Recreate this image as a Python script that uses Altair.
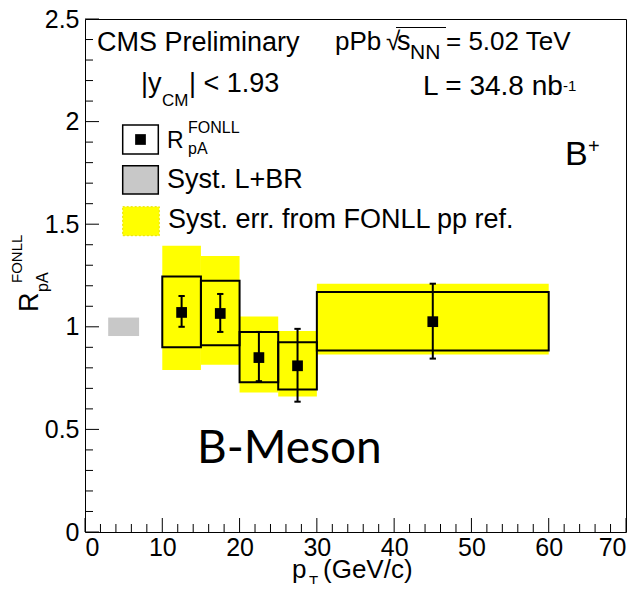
import altair as alt
import pandas as pd

# ---- data ----
bin_lo = [10, 15, 20, 25, 30]
bin_hi = [15, 20, 25, 30, 60]
pt_center = [12.5, 17.5, 22.5, 27.5, 45]
rpa = [1.07, 1.065, 0.85, 0.81, 1.025]
stat_lo = [1.00, 0.975, 0.735, 0.635, 0.845]
stat_hi = [1.15, 1.16, 0.975, 0.99, 1.21]
syst_lo = [0.90, 0.91, 0.73, 0.695, 0.885]
syst_hi = [1.245, 1.225, 0.975, 0.925, 1.17]
fonll_lo = [0.79, 0.815, 0.68, 0.66, 0.865]
fonll_hi = [1.395, 1.345, 1.05, 0.98, 1.21]
lbr_x = [3, 7]
lbr_y = [0.955, 1.045]

x_major = [0, 10, 20, 30, 40, 50, 60, 70]
x_minor = [2, 4, 6, 8, 12, 14, 16, 18, 22, 24, 26, 28, 32, 34, 36, 38,
           42, 44, 46, 48, 52, 54, 56, 58, 62, 64, 66, 68]
y_major = [0, 0.5, 1, 1.5, 2, 2.5]
y_minor = [0.1, 0.2, 0.3, 0.4, 0.6, 0.7, 0.8, 0.9, 1.1, 1.2, 1.3, 1.4,
           1.6, 1.7, 1.8, 1.9, 2.1, 2.2, 2.3, 2.4]

W, H = 541, 513
FONT = "Liberation Sans"

df = pd.DataFrame({
    "lo": bin_lo, "hi": bin_hi, "pt": pt_center, "r": rpa,
    "slo": stat_lo, "shi": stat_hi, "ylo": syst_lo, "yhi": syst_hi,
    "flo": fonll_lo, "fhi": fonll_hi,
})
df_lbr = pd.DataFrame({"x1": [lbr_x[0]], "x2": [lbr_x[1]], "y1": [lbr_y[0]], "y2": [lbr_y[1]]})

xs = alt.Scale(domain=[0, 70], nice=False, zero=False)
ys = alt.Scale(domain=[0, 2.5], nice=False, zero=False)

x_axis = alt.Axis(values=x_major, tickSize=0, domain=False, grid=False, title=None,
                  labelFont=FONT, labelFontSize=25, labelColor="black", labelPadding=3,
                  labelOverlap=False)
y_axis = alt.Axis(values=y_major, tickSize=0, domain=False, grid=False, title=None,
                  format="~g", labelFont=FONT, labelFontSize=25, labelColor="black",
                  labelPadding=6, labelOverlap=False)


def X(f):
    return alt.X(f, scale=xs, axis=x_axis)


def Y(f):
    return alt.Y(f, scale=ys, axis=y_axis)


one = alt.Data(values=[{}])


def txt(s, x, y, size, font=FONT, angle=0):
    return alt.Chart(one).mark_text(
        text=s, fontSize=size, font=font, angle=angle, align="left",
        baseline="alphabetic", color="black"
    ).encode(x=alt.value(x), y=alt.value(y))


def box(x1, x2, y1, y2, fill, stroke, sw=1.5, dash=None):
    kw = dict(fill=fill, stroke=stroke, strokeWidth=sw)
    if dash:
        kw["strokeDash"] = dash
    return alt.Chart(one).mark_rect(**kw).encode(
        x=alt.value(x1), x2=alt.value(x2), y=alt.value(y1), y2=alt.value(y2))


layers = []

# L+BR gray box
layers.append(alt.Chart(df_lbr).mark_rect(fill="#c8c8c8").encode(
    x=X("x1:Q"), x2="x2:Q", y=Y("y1:Q"), y2="y2:Q"))

# FONLL yellow boxes
layers.append(alt.Chart(df).mark_rect(fill="#ffff00").encode(
    x=X("lo:Q"), x2="hi:Q", y=Y("flo:Q"), y2="fhi:Q"))

# systematic boxes
layers.append(alt.Chart(df).mark_rect(fillOpacity=0, stroke="black", strokeWidth=2).encode(
    x=X("lo:Q"), x2="hi:Q", y=Y("ylo:Q"), y2="yhi:Q"))

# stat error bars
layers.append(alt.Chart(df).mark_rule(color="black", strokeWidth=2).encode(
    x=X("pt:Q"), y=Y("slo:Q"), y2="shi:Q"))
for col in ["slo", "shi"]:
    layers.append(alt.Chart(df).mark_point(
        shape="M-1,0L1,0", size=40, stroke="black", strokeWidth=2, filled=False, opacity=1
    ).encode(x=X("pt:Q"), y=Y(f"{col}:Q")))

# markers
layers.append(alt.Chart(df).mark_square(size=115, color="black", opacity=1).encode(
    x=X("pt:Q"), y=Y("r:Q")))

# inward ticks
for vals, ln in [(y_major, 14), (y_minor, 8)]:
    layers.append(alt.Chart(pd.DataFrame({"v": vals})).mark_rule(color="black", strokeWidth=1).encode(
        y=Y("v:Q"), x=alt.value(0), x2=alt.value(ln)))
for vals, ln in [(x_major, 14), (x_minor, 8)]:
    layers.append(alt.Chart(pd.DataFrame({"v": vals})).mark_rule(color="black", strokeWidth=1).encode(
        x=X("v:Q"), y=alt.value(H), y2=alt.value(H - ln)))

# header texts
layers += [
    txt("CMS Preliminary", 12, 32, 27),
    txt("|y", 56, 73, 27),
    txt("CM", 77, 87, 17),
    txt("| < 1.93", 104, 73, 27),
    txt("pPb", 250, 31, 26),
    txt("√", 301, 31, 26),
    txt("s", 312, 31, 27),
    txt("NN", 325, 40, 21),
    txt("= 5.02 TeV", 361, 31, 26),
    txt("L = 34.8 nb", 338, 76, 28),
    txt("-1", 478, 72, 15),
    txt("B", 480, 146, 34),
    txt("+", 503, 134, 20),
    txt("B-Meson", 112, 444, 46, font="Lato"),
]
layers.append(alt.Chart(one).mark_rule(color="black", strokeWidth=1).encode(
    x=alt.value(311), x2=alt.value(361), y=alt.value(8.5)))

# legend
layers += [
    box(37.7, 73.3, 106, 135, "white", "black"),
    alt.Chart(one).mark_square(size=115, color="black", opacity=1).encode(
        x=alt.value(55.5), y=alt.value(120.5)),
    txt("R", 82, 129, 23),
    txt("FONLL", 103, 114, 16),
    txt("pA", 103, 135, 16),
    box(37.7, 73.3, 146.7, 175, "#c8c8c8", "black"),
    txt("Syst. L+BR", 82, 169, 27),
    box(37.7, 74.3, 187.7, 216.7, "#ffff00", "#e8e000", 1, [2, 2]),
    txt("Syst. err. from FONLL pp ref.", 83, 209, 27),
]

# axis titles
layers += [
    txt("p", 207, 559, 26),
    txt("T", 224, 567, 15),
    txt("(GeV/c)", 238, 559, 26),
    txt("R", -47, 293, 27, angle=270),
    txt("FONLL", -63, 264, 15, angle=270),
    txt("pA", -37, 273, 16, angle=270),
]

chart = alt.layer(*layers).properties(
    width=W, height=H,
    autosize=alt.AutoSizeParams(type="none"),
    padding={"left": 77, "top": 11, "right": 9, "bottom": 52},
    background="white",
).configure_view(stroke="black", strokeWidth=1)

chart.save("out.html", embed_options={"renderer": "svg", "actions": False})
